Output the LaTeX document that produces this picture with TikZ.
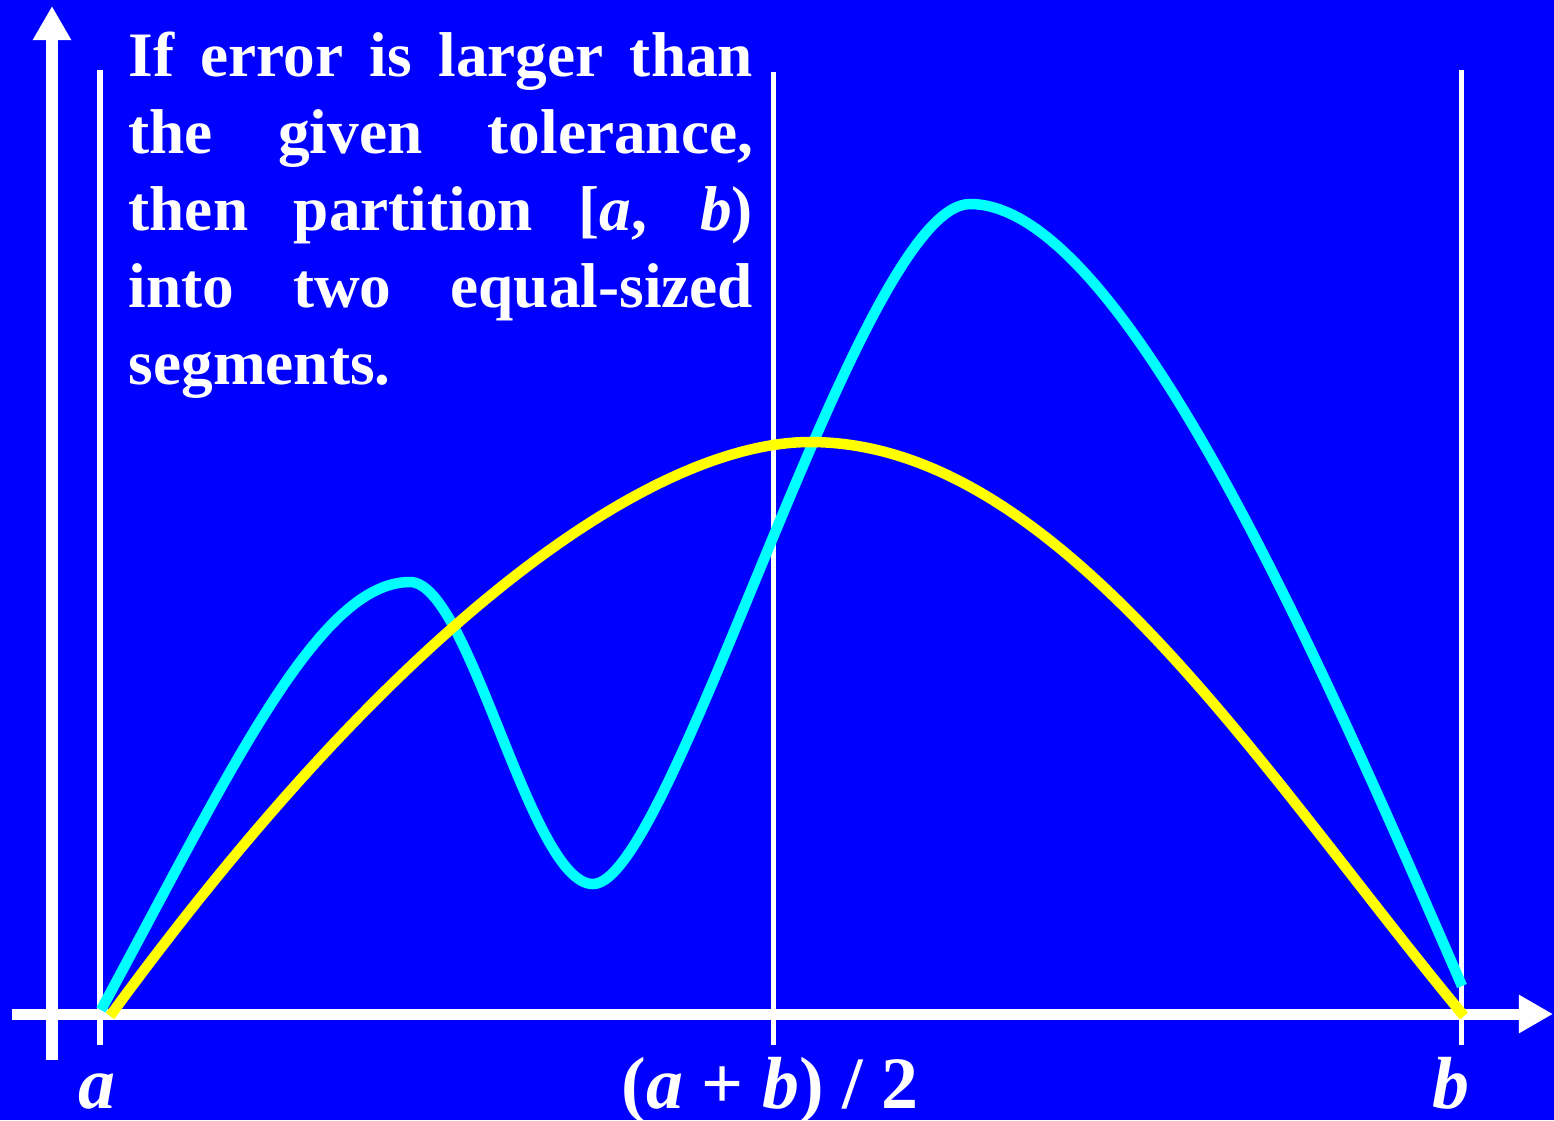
\documentclass[tikz,border=0pt]{standalone}
\usepackage{fontspec}
\setmainfont{Liberation Serif}
\usetikzlibrary{arrows.meta}

\definecolor{bgblue}{RGB}{0,0,255}
\definecolor{fncyan}{RGB}{0,255,255}
\definecolor{fnyellow}{RGB}{255,255,0}

\begin{document}
\begin{tikzpicture}[x=0.01cm, y=-0.01cm]
    % Styles
    \tikzset{axis line/.style={white, line width=0.11cm, -{Triangle[length=0.34cm,width=0.36cm]}}}
    \tikzset{mark line/.style={white, line width=0.05cm}}
    \tikzset{curve/.style={line width=0.105cm}}
    \tikzset{axis label/.style={white, font=\fontsize{21}{24}\selectfont\bfseries, inner sep=0pt, anchor=base}}

    % --- Background ---
    \fill[bgblue] (0,0) rectangle (1554,1120);
    \useasboundingbox (0,0) rectangle (1554,1120);

    % --- Axes ---
    \coordinate (yfoot) at (52,1060);
    \coordinate (ytip) at (52,6);
    \coordinate (xfoot) at (12,1014);
    \coordinate (xtip) at (1553,1014);
    \draw[axis line] (yfoot) -- (ytip);
    \draw[axis line] (xfoot) -- (xtip);

    % --- Vertical lines at a, (a+b)/2 and b ---
    \coordinate (atop) at (100,70);   \coordinate (abot) at (100,1045);
    \coordinate (mtop) at (773,72);   \coordinate (mbot) at (773,1045);
    \coordinate (btop) at (1461,70);  \coordinate (bbot) at (1461,1045);
    \draw[mark line] (atop) -- (abot);
    \draw[mark line] (mtop) -- (mbot);
    \draw[mark line] (btop) -- (bbot);

    % --- Function (cyan) ---
    \draw[curve, fncyan] (101,1010)
        .. controls (231,770) and (318,582) .. (410,582)
        .. controls (470,582) and (530,884) .. (593,884)
        .. controls (673,884) and (860,204) .. (970,204)
        .. controls (1120,204) and (1312,641) .. (1462,986);

    % --- Approximation (yellow) ---
    \draw[curve, fnyellow] (110,1016)
        .. controls (410,605) and (660,442) .. (810,442)
        .. controls (1060,442) and (1264,776) .. (1464,1016);

    % --- Axis labels ---
    \node[axis label] (lbla) at (97,1108) {\textit{a}};
    \node[axis label] (lblmid) at (770,1108) {(\textit{a} + \textit{b}) / 2};
    \node[axis label] (lblb) at (1451,1108) {\textit{b}};

    % --- Message ---
    \node[white, anchor=north west, inner sep=0pt, text width=6.24cm, align=justify,
          font=\fontsize{18}{21.9}\selectfont\bfseries] (msg) at (128,31)
        {\hyphenpenalty=10000 \exhyphenpenalty=10000
         If error is larger than\linebreak
         the given tolerance,\linebreak
         then partition [\textit{a}, \textit{b})\linebreak
         into two equal-sized\linebreak
         segments.};

\end{tikzpicture}
\end{document}
